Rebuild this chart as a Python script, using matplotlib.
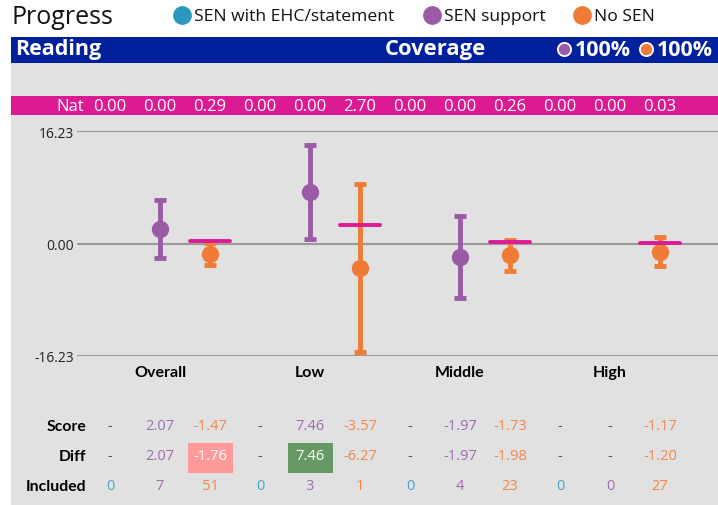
import numpy as np
import matplotlib
matplotlib.use("Agg")
import matplotlib.pyplot as plt
from matplotlib.patches import Rectangle
from matplotlib.lines import Line2D
from matplotlib.transforms import blended_transform_factory

plt.rcParams["font.family"] = ["Open Sans", "DejaVu Sans"]

W, H = 718, 506

# data
series = ["SEN with EHC/statement", "SEN support", "No SEN"]
groups = ["Overall", "Low", "Middle", "High"]
nat = [0.00, 0.00, 0.29, 0.00, 0.00, 2.70, 0.00, 0.00, 0.26, 0.00, 0.00, 0.03]
score = [None, 2.07, -1.47, None, 7.46, -3.57, None, -1.97, -1.73, None, None, -1.17]
diff = [None, 2.07, -1.76, None, 7.46, -6.27, None, -1.97, -1.98, None, None, -1.20]
included = [0, 7, 51, 0, 3, 1, 0, 4, 23, 0, 0, 27]
ci_half = [None, 4.2, 1.6, None, 6.8, 12.1, None, 5.9, 2.3, None, None, 2.1]
diff_sig = [0, 0, -1, 0, 1, 0, 0, 0, 0, 0, 0, 0]
coverage = ["100%", "100%"]
y_lim = 16.23

C_SER = ["#2a98bf", "#9b5aa5", "#f07b36"]
C_TXT = ["#4aa5c9", "#a06cb0", "#f0874a"]
NAVY = "#00209c"
PINK = "#dc1a94"
BG = "#e1e1e1"
GRID = "#9a9a9a"


def fx(px):
    return px / W


def fy(py):
    return 1 - py / H


fig = plt.figure(figsize=(W / 100, H / 100), dpi=100)
fig.patch.set_facecolor("white")

# panel background, header bar, nat bar
fig.add_artist(Rectangle((fx(11), 0), fx(718) - fx(11), fy(38), transform=fig.transFigure,
                         facecolor=BG, edgecolor="none", zorder=0))
fig.add_artist(Rectangle((fx(11), fy(64)), fx(718) - fx(11), fy(38) - fy(64), transform=fig.transFigure,
                         facecolor=NAVY, edgecolor="none", zorder=1))
fig.add_artist(Rectangle((fx(11), fy(116)), fx(718) - fx(11), fy(97) - fy(116), transform=fig.transFigure,
                         facecolor=PINK, edgecolor="none", zorder=1))

# title + legend
fig.text(fx(11), fy(18), "Progress", fontsize=18, color="#111111", va="center", ha="left")
leg_x = [182, 432, 582]
for lx, lab, c in zip(leg_x, series, C_SER):
    fig.add_artist(Line2D([fx(lx)], [fy(16)], marker="o", markersize=12.5, color=c,
                          transform=fig.transFigure, linestyle="none"))
    fig.text(fx(lx + 12), fy(17), lab, fontsize=12.6, color="#111111", va="center", ha="left")

# header
fig.text(fx(15), fy(50), "Reading", fontsize=15.5, fontweight="bold", color="white", va="center", zorder=3)
fig.text(fx(385), fy(50), "Coverage", fontsize=15.8, fontweight="bold", color="white", va="center", zorder=3)
for cx, c, txt in zip([564, 646], C_SER[1:], coverage):
    fig.add_artist(Line2D([fx(cx)], [fy(50)], marker="o", markersize=9.5, color=c, markeredgecolor="white",
                          markeredgewidth=1.3, transform=fig.transFigure, linestyle="none", zorder=3))
    fig.text(fx(cx + 11), fy(50), txt, fontsize=15.5, fontweight="bold", color="white", va="center", zorder=3)

# main axes: column i centred at pixel 110 + 50 i
x0 = (77 - 110) / 50
x1 = (718 - 110) / 50
ax = fig.add_axes([fx(77), fy(357), fx(718) - fx(77), fy(132) - fy(357)])
ax.set_zorder(2)
ax.set_facecolor("none")
ax.set_xlim(x0, x1)
ax.set_ylim(-y_lim, y_lim)
for s in ax.spines.values():
    s.set_visible(False)
ax.set_xticks([])
ax.set_yticks([-y_lim, 0, y_lim])
ax.set_yticklabels([f"{-y_lim:.2f}", "0.00", f"{y_lim:.2f}"])
ax.tick_params(axis="y", length=0, pad=2, labelsize=10, labelcolor="#222222")
for yv in [-y_lim, 0, y_lim]:
    ax.axhline(yv, color=GRID, lw=1.5, zorder=1)

cols = np.arange(len(nat))
for i in cols:
    if score[i] is None:
        continue
    c = C_SER[i % 3]
    ax.errorbar(i, score[i], yerr=ci_half[i], fmt="o", color=c, markersize=11.5,
                elinewidth=3.5, capsize=4, capthick=3.5, zorder=3, clip_on=False)
    # national benchmark line for No SEN
    if i % 3 == 2:
        ax.hlines(nat[i], i - 0.4, i + 0.4, color=PINK, lw=2.8, capstyle="round", zorder=4)

# nat row
nat_tr = blended_transform_factory(ax.transData, fig.transFigure)
fig.text(fx(84), fy(107), "Nat", fontsize=12, color="white", ha="right", va="center", zorder=3)
for i in cols:
    ax.text(i, fy(107), f"{nat[i]:.2f}", transform=nat_tr, fontsize=12, color="white",
            ha="center", va="center", zorder=3, clip_on=False)

# group labels
for g, lab in enumerate(groups):
    ax.text(3 * g + 1, fy(373), lab, transform=nat_tr, fontsize=11.5, fontweight="bold",
            family=["Lato", "DejaVu Sans"], ha="center", va="center", clip_on=False)

# table
row_y = {"Score": 427, "Diff": 457, "Included": 487}
for lab, py in row_y.items():
    fig.text(fx(86), fy(py), lab, fontsize=11.3, fontweight="bold", family=["Lato", "DejaVu Sans"],
             ha="right", va="center")


def fmt(v):
    return "-" if v is None else f"{v:.2f}"


for i in cols:
    c = C_TXT[i % 3]
    ax.text(i, fy(427), fmt(score[i]), transform=nat_tr, fontsize=10.5, ha="center", va="center",
            color="#555555" if score[i] is None else c, clip_on=False)
    dc = "#555555" if diff[i] is None else c
    if diff_sig[i] != 0:
        box = "#ff9a9a" if diff_sig[i] < 0 else "#669966"
        ax.add_patch(Rectangle((i - 0.45, fy(474)), 0.9, fy(444) - fy(474), transform=nat_tr,
                               facecolor=box, edgecolor="none", clip_on=False, zorder=2))
        dc = "white"
    ax.text(i, fy(457), fmt(diff[i]), transform=nat_tr, fontsize=10.5, ha="center", va="center",
            color=dc, clip_on=False, zorder=3)
    ax.text(i, fy(487), str(included[i]), transform=nat_tr, fontsize=10.5, ha="center", va="center",
            color=c, clip_on=False)

fig.savefig("out.png", dpi=100)
